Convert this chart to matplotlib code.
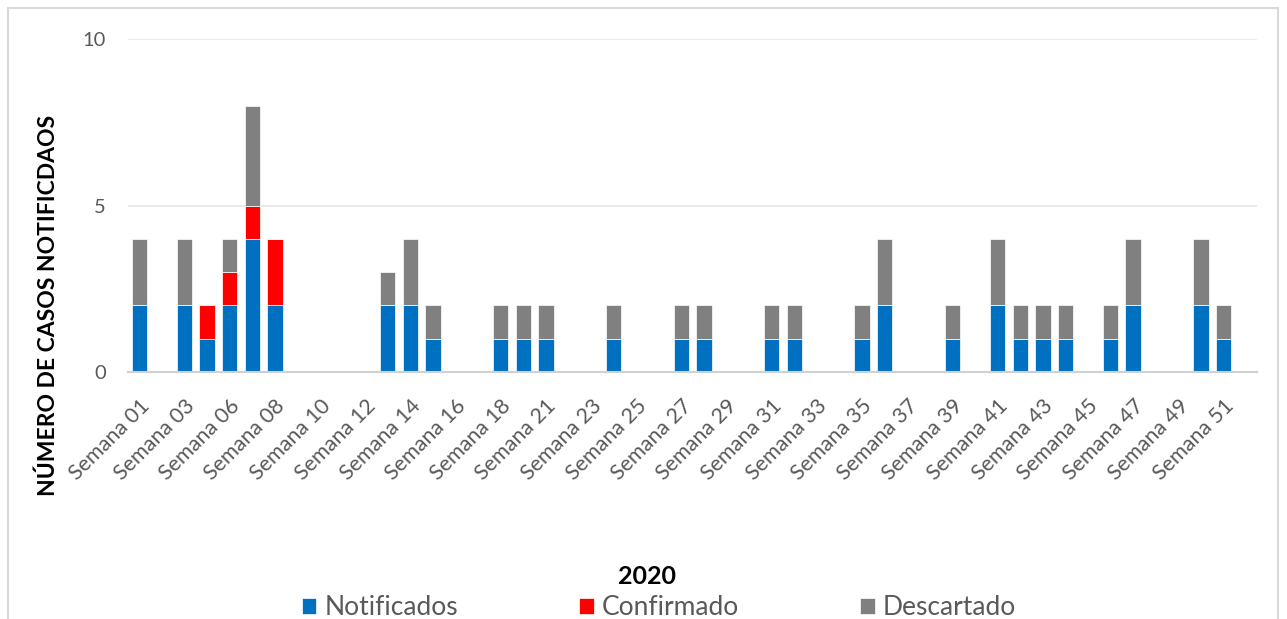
import matplotlib.pyplot as plt
from matplotlib.patches import Rectangle
import numpy as np

plt.rcParams['font.family'] = ['Lato', 'DejaVu Sans']

weeks = ['01', '02', '03', '04', '06', '07', '08', '09', '10', '11',
         '12', '13', '14', '15', '16', '17', '18', '19', '21', '22',
         '23', '24', '25', '26', '27', '28', '29', '30', '31', '32',
         '33', '34', '35', '36', '37', '38', '39', '40', '41', '42',
         '43', '44', '45', '46', '47', '48', '49', '50', '51', '52']
categories = ['Semana ' + w for w in weeks]

notificados = [2, 0, 2, 1, 2, 4, 2, 0, 0, 0,
               0, 2, 2, 1, 0, 0, 1, 1, 1, 0,
               0, 1, 0, 0, 1, 1, 0, 0, 1, 1,
               0, 0, 1, 2, 0, 0, 1, 0, 2, 1,
               1, 1, 0, 1, 2, 0, 0, 2, 1, 0]
confirmado = [0, 0, 0, 1, 1, 1, 2, 0, 0, 0,
              0, 0, 0, 0, 0, 0, 0, 0, 0, 0,
              0, 0, 0, 0, 0, 0, 0, 0, 0, 0,
              0, 0, 0, 0, 0, 0, 0, 0, 0, 0,
              0, 0, 0, 0, 0, 0, 0, 0, 0, 0]
descartado = [2, 0, 2, 0, 1, 3, 0, 0, 0, 0,
              0, 1, 2, 1, 0, 0, 1, 1, 1, 0,
              0, 1, 0, 0, 1, 1, 0, 0, 1, 1,
              0, 0, 1, 2, 0, 0, 1, 0, 2, 1,
              1, 1, 0, 1, 2, 0, 0, 2, 1, 0]

series_names = ['Notificados', 'Confirmado', 'Descartado']
colors = ['#0070C0', '#FF0000', '#808080']

fig = plt.figure(figsize=(12.87, 6.19), dpi=100)
ax = fig.add_axes([0.0995, 0.399, 0.8775, 0.538])

x = np.arange(len(categories))
n = np.array(notificados)
c = np.array(confirmado)
d = np.array(descartado)
w = 0.68
ax.bar(x, n, w, color=colors[0], edgecolor='white', linewidth=0.5, label=series_names[0])
ax.bar(x, c, w, bottom=n, color=colors[1], edgecolor='white', linewidth=0.5, label=series_names[1])
ax.bar(x, d, w, bottom=n + c, color=colors[2], edgecolor='white', linewidth=0.5, label=series_names[2])

ax.set_xlim(-0.5, len(categories) - 0.5)
ax.set_ylim(0, 10)
ax.set_yticks([0, 5, 10])
ax.yaxis.grid(True, color='#e6e6e6', linewidth=1.2)
ax.set_axisbelow(True)
for s in ['top', 'right', 'left']:
    ax.spines[s].set_visible(False)
ax.spines['bottom'].set_color('#d0d0d0')
ax.spines['bottom'].set_linewidth(1.5)
ax.tick_params(axis='both', length=0, colors='#595959')
ax.tick_params(axis='y', labelsize=14.5, pad=16)

ax.set_xticks(x[::2])
ax.set_xticklabels(categories[::2], rotation=45, ha='right', rotation_mode='anchor',
                   fontsize=15.5, color='#595959')
ax.tick_params(axis='x', pad=17)

ax.set_ylabel('NÚMERO DE CASOS NOTIFICDAOS', fontsize=16.5, fontweight='bold',
              color='black')
ax.yaxis.set_label_coords(-0.061, 0.2)

fig.text(0.503, 0.068, '2020', ha='center', va='center', fontsize=18,
         fontweight='bold', color='black')

handles, labels = ax.get_legend_handles_labels()
leg = fig.legend(handles, labels, loc='center', bbox_to_anchor=(0.512, 0.018), ncol=3,
                 frameon=False, fontsize=19, handlelength=0.55, handleheight=0.55,
                 handletextpad=0.3, columnspacing=4.6, labelcolor='#595959')

fig.patches.append(Rectangle((8 / 1287, -0.01), 1270 / 1287, 1 - 8 / 619 + 0.01,
                             transform=fig.transFigure, fill=False,
                             edgecolor='#d9d9d9', linewidth=1.5))

fig.savefig('out.png', dpi=100)
